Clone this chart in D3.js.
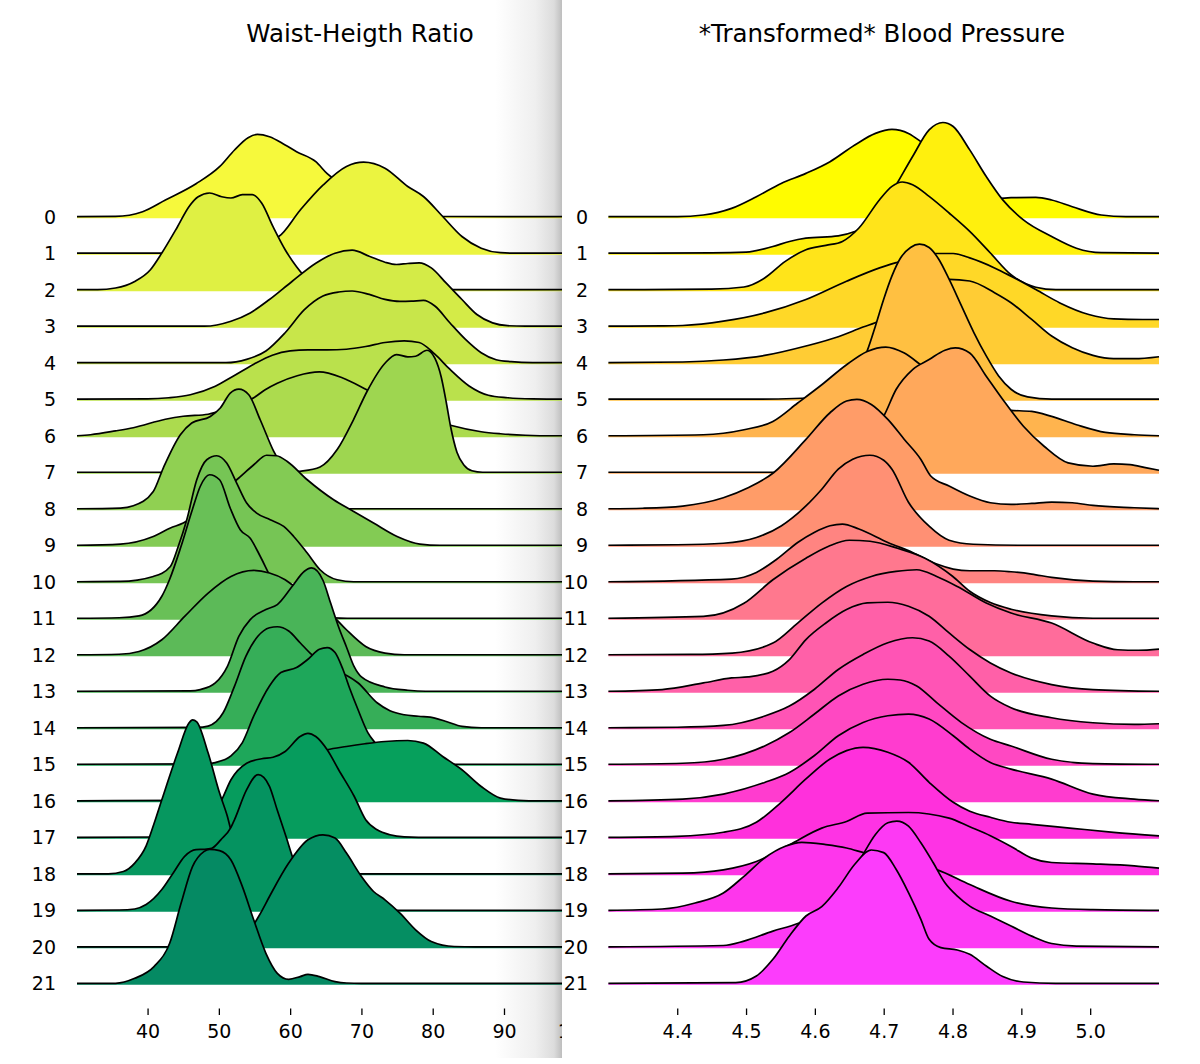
<!DOCTYPE html>
<html>
<head>
<meta charset="utf-8">
<script src="https://cdn.jsdelivr.net/npm/d3@7"></script>
<style>
  body { margin: 0; background: #fff; }
  svg text { font-family: "DejaVu Sans", sans-serif; }
</style>
</head>
<body>
<div id="plot"></div>
<script>

// row labels and tick values
var rowLabels = d3.range(22).map(String);
var waistTicks = [40, 50, 60, 70, 80, 90, 100];
var bpTicks = [4.4, 4.5, 4.6, 4.7, 4.8, 4.9, 5.0];

// Waist-Heigth Ratio densities, one array per row: [value, density]
var w0 = [[30.1,0],[35.5,0.0003],[39.3,0.005],[42.5,0.0167],[46.8,0.033],[50.1,0.05],[52.2,0.0667],[54.1,0.079],[55.4,0.0823],[57.1,0.08],[59.3,0.0717],[60.9,0.065],[63.6,0.055],[65.2,0.043],[67.9,0.03],[71.1,0.0167],[74.9,0.0067],[78.7,0.0017],[81.4,0.0002],[109.5,0]];
var w1 = [[30.1,0],[42,0],[45,0.0005],[50,0.0025],[54,0.007],[58.4,0.0167],[61.4,0.043],[64.6,0.068],[67.9,0.0867],[70.3,0.091],[73.3,0.085],[76.5,0.0667],[78.7,0.0567],[81.4,0.0367],[84.1,0.0167],[86.8,0.005],[89.5,0.0005],[92,0],[109.5,0]];
var w2 = [[30.1,0],[33,0],[35.5,0.0017],[38.2,0.0083],[40.4,0.02],[42,0.0367],[44.2,0.063],[45.8,0.083],[47.1,0.093],[48.7,0.0967],[50.4,0.093],[51.7,0.0917],[53.3,0.095],[54.7,0.095],[56,0.0867],[57.6,0.063],[59.3,0.04],[60.9,0.023],[62.5,0.01],[64.1,0.0033],[66.3,0.0003],[70,0],[109.5,0]];
var w3 = [[30.1,0],[48,0],[51.7,0.005],[54.4,0.0133],[57.1,0.0267],[60.3,0.045],[63.6,0.063],[66.3,0.073],[68.7,0.076],[71.1,0.07],[73.3,0.064],[74.9,0.0617],[76.5,0.0627],[78.1,0.0633],[79.8,0.0583],[81.9,0.043],[84.1,0.0267],[86.2,0.0117],[88.4,0.0033],[90.5,0.0005],[93,0],[109.5,0]];
var w4 = [[30.1,0],[51,0],[53.9,0.0033],[56.6,0.0117],[59.3,0.03],[62,0.053],[64.6,0.0667],[66.8,0.0707],[68.7,0.0717],[71.1,0.0683],[73.3,0.0633],[75.4,0.0613],[77,0.0615],[78.7,0.0623],[80.3,0.0567],[82.4,0.04],[84.6,0.0233],[86.8,0.01],[88.9,0.003],[91,0.001],[94,0],[109.5,0]];
var w5 = [[30.1,0],[40,0.0003],[43,0.0015],[46,0.0045],[49.5,0.013],[52,0.023],[54.9,0.035],[57.5,0.044],[60,0.0483],[62.5,0.0493],[65.2,0.0493],[67.9,0.05],[70.6,0.0527],[73.3,0.0567],[76,0.0583],[78.1,0.0567],[80.3,0.045],[82.4,0.03],[85.1,0.0133],[87.8,0.004],[90.5,0.0015],[94,0.0003],[98,0],[109.5,0]];
var w6 = [[30.1,0],[32,0.001],[35.5,0.0048],[38,0.008],[42.5,0.0165],[45,0.0195],[48.5,0.0215],[51,0.027],[53,0.032],[54.9,0.038],[56.5,0.046],[58.2,0.0525],[61,0.06],[64.1,0.0638],[67.3,0.058],[70.6,0.0465],[74,0.033],[78,0.021],[82.5,0.0105],[86.8,0.004],[89.5,0.002],[93,0.0005],[97,0],[109.5,0]];
var w7 = [[30.1,0],[60,0],[61.4,0.001],[64.2,0.0053],[66.6,0.0227],[68.9,0.0527],[70.8,0.081],[73.3,0.109],[74.9,0.1177],[76.5,0.1154],[77.6,0.116],[79.2,0.122],[80.3,0.114],[81.2,0.095],[81.9,0.07],[82.5,0.046],[83.4,0.02],[84.4,0.007],[85.5,0.0015],[87,0],[109.5,0]];
var w8 = [[30.1,0],[36.2,0.0007],[38,0.003],[40.8,0.0173],[42.2,0.0407],[44.6,0.074],[46.2,0.0857],[48.8,0.0923],[50.2,0.1007],[51.6,0.1157],[52.8,0.1197],[54.2,0.114],[55.8,0.089],[57.7,0.0573],[60,0.03],[62,0.013],[64,0.004],[66,0.0005],[70,0],[109.5,0]];
var w9 = [[30.1,0],[36.2,0.0012],[40.8,0.0088],[43.2,0.0172],[45,0.0222],[48,0.038],[50,0.052],[52.5,0.0655],[54.9,0.0805],[56.7,0.09],[58.1,0.0895],[59.6,0.0838],[62.4,0.0655],[66.1,0.0455],[68.9,0.0338],[71.7,0.0222],[75,0.0088],[78.2,0.0012],[81,0],[109.5,0]];
var w10 = [[30.1,0],[36.2,0.0003],[40.8,0.0053],[43.2,0.0153],[44.3,0.0353],[45.5,0.062],[46.9,0.102],[48.3,0.122],[49.7,0.126],[51.1,0.1187],[52.5,0.0987],[53.9,0.0787],[55.3,0.0687],[57.2,0.062],[59.1,0.0553],[60.5,0.0453],[62.4,0.0287],[64.2,0.012],[66.6,0.002],[68.9,0],[109.5,0]];
var w11 = [[30.1,0],[36,0.0005],[38.8,0.0023],[42,0.022],[43.1,0.039],[44.7,0.072],[46.3,0.109],[47.4,0.132],[48.7,0.1435],[50.1,0.1385],[51.6,0.11],[53,0.0885],[54.4,0.08],[55.8,0.062],[57.2,0.042],[58.6,0.025],[60,0.014],[62,0.006],[64,0.002],[66,0.0005],[68,0],[109.5,0]];
var w12 = [[30.1,0],[36,0.0005],[38.8,0.0033],[42,0.015],[45.2,0.0383],[48.5,0.0617],[51.7,0.0783],[54.9,0.0843],[57.1,0.0817],[59.3,0.075],[60.3,0.07],[62.5,0.06],[64.5,0.048],[66.3,0.0367],[67.9,0.025],[70.6,0.0083],[73.3,0.0017],[76,0],[109.5,0]];
var w13 = [[30.1,0],[46,0.0003],[47.4,0.0017],[49.5,0.0083],[51.2,0.025],[52.8,0.055],[54.4,0.0717],[56.6,0.0817],[58.2,0.0867],[60.3,0.105],[62,0.12],[63,0.1233],[64.6,0.111],[65.7,0.0877],[66.8,0.0643],[67.9,0.0443],[69,0.0243],[70,0.0143],[73.3,0.0043],[76.5,0.001],[79,0],[109.5,0]];
var w14 = [[30.1,0],[47,0.0003],[48.5,0.0017],[50.6,0.015],[52.2,0.0417],[53.8,0.0717],[55.5,0.0917],[57.1,0.1],[58.2,0.101],[59.8,0.0967],[61.4,0.085],[63,0.0733],[64.5,0.065],[66,0.058],[68,0.052],[69.5,0.045],[72.2,0.025],[74,0.017],[76,0.013],[78,0.0115],[80.3,0.0097],[82,0.006],[84.1,0.0013],[86.8,0],[109.5,0]];
var w15 = [[30.1,0],[48,0.0003],[49.5,0.0017],[51.7,0.0083],[53.3,0.0217],[54.9,0.0483],[57.1,0.0783],[58.7,0.0917],[60.9,0.0967],[62.5,0.105],[64.1,0.115],[65.2,0.1167],[66.3,0.1117],[67.4,0.095],[68.4,0.075],[69.5,0.055],[70.9,0.0317],[71.9,0.0217],[73.5,0.01],[75.5,0.003],[78,0.0005],[80,0],[109.5,0]];
var w16 = [[30.1,0],[45,0.0005],[50,0.002],[53,0.008],[56,0.02],[60,0.036],[63,0.046],[65.2,0.051],[67.9,0.0543],[70.5,0.057],[73.3,0.0593],[76.5,0.0603],[78.7,0.0577],[81.4,0.0443],[84.1,0.031],[86.8,0.0143],[89.5,0.0027],[92,0.0005],[95,0],[109.5,0]];
var w17 = [[30.1,0],[42,0.0003],[45,0.002],[48,0.012],[49.2,0.024],[50.4,0.0375],[51.7,0.0575],[53.9,0.074],[56,0.0785],[57.6,0.08],[59.3,0.0858],[61.4,0.1008],[62.5,0.104],[63.6,0.1008],[65.2,0.0875],[66.8,0.0675],[69,0.0408],[70.6,0.0175],[72.2,0.0075],[74,0.0025],[76,0.0005],[80,0],[109.5,0]];
var w18 = [[30.1,0],[34.5,0],[36.6,0.0023],[38.2,0.0107],[39.8,0.028],[40.9,0.05],[42,0.074],[44.2,0.1207],[45.8,0.1507],[46.3,0.154],[46.9,0.152],[48.5,0.1207],[50.1,0.0807],[51.2,0.0573],[51.7,0.044],[52.5,0.033],[54,0.022],[56,0.014],[58,0.009],[61,0.004],[65,0.001],[70,0],[109.5,0]];
var w19 = [[30.1,0],[36,0.0003],[38.2,0.0013],[39.8,0.0057],[42,0.0207],[43.6,0.0373],[45.2,0.054],[46.8,0.0607],[48,0.061],[49,0.062],[50.3,0.0707],[51.7,0.083],[52.2,0.0907],[53.9,0.1207],[55.5,0.1357],[56.3,0.133],[57.1,0.124],[58.2,0.1],[59.5,0.072],[60.5,0.05],[62,0.032],[64,0.015],[66,0.006],[69,0.0015],[72,0.0003],[75,0],[109.5,0]];
var w20 = [[30.1,0],[46,0],[50,0.001],[52,0.004],[53.5,0.009],[54.4,0.017],[55.8,0.033],[57.1,0.0503],[59.8,0.0837],[62.5,0.107],[64.6,0.112],[66.3,0.1087],[67.9,0.0937],[70,0.0703],[71.7,0.0553],[73.3,0.047],[75.4,0.0337],[77.6,0.017],[79.8,0.0053],[83,0.0003],[86,0],[109.5,0]];
var w21 = [[30.1,0],[35.5,0],[38.2,0.005],[40.9,0.0167],[43.1,0.04],[44.7,0.08],[46.3,0.1167],[47.9,0.1317],[48.7,0.134],[50.1,0.1327],[51.7,0.1233],[53.3,0.0967],[54.9,0.0633],[56.6,0.03],[58.2,0.01],[59.8,0.004],[61.4,0.0067],[62.5,0.009],[64.1,0.0067],[66.3,0.0017],[67.9,0.0003],[70,0],[109.5,0]];

// *Transformed* Blood Pressure densities, one array per row
var b0 = [[4.3,0],[4.4,0],[4.438,0.17],[4.479,0.83],[4.515,2.0],[4.551,3.33],[4.587,4.33],[4.622,5.5],[4.658,7.17],[4.688,8.33],[4.712,8.73],[4.736,8.33],[4.754,7.5],[4.78,6.0],[4.81,4.0],[4.84,2.5],[4.864,1.83],[4.885,1.9],[4.921,1.93],[4.944,1.67],[4.974,1.0],[5.016,0.17],[5.052,0],[5.1,0]];
var b1 = [[4.3,0],[4.45,0.03],[4.5,0.1],[4.539,0.67],[4.563,1.17],[4.587,1.5],[4.634,1.73],[4.658,2.17],[4.682,3.0],[4.7,4.67],[4.721,7.17],[4.742,9.67],[4.766,12.33],[4.786,13.07],[4.801,12.67],[4.825,10.33],[4.849,7.67],[4.873,5.33],[4.903,3.33],[4.944,1.67],[4.98,0.5],[5.016,0.05],[5.1,0]];
var b2 = [[4.3,0],[4.45,0.05],[4.497,0.27],[4.527,1.17],[4.557,2.83],[4.587,4.0],[4.616,4.43],[4.64,4.83],[4.664,6.17],[4.694,9.0],[4.712,10.33],[4.727,10.77],[4.742,10.5],[4.766,9.33],[4.795,7.67],[4.825,5.83],[4.855,3.67],[4.885,1.5],[4.921,0.25],[4.95,0],[5.1,0]];
var b3 = [[4.3,0],[4.378,0.03],[4.408,0.07],[4.467,0.5],[4.527,1.33],[4.587,2.67],[4.646,4.5],[4.694,5.83],[4.72,6.4],[4.75,7.0],[4.777,7.27],[4.801,7.27],[4.825,6.83],[4.861,5.83],[4.885,5.0],[4.921,3.67],[4.956,2.33],[4.998,1.17],[5.034,0.73],[5.076,0.67],[5.1,0.67]];
var b4 = [[4.3,0],[4.408,0.07],[4.467,0.27],[4.527,0.73],[4.587,1.67],[4.634,2.6],[4.67,3.57],[4.694,4.17],[4.73,5.8],[4.76,7.2],[4.795,8.33],[4.825,8.17],[4.861,7.0],[4.885,6.0],[4.915,4.33],[4.944,2.67],[4.974,1.5],[5.004,0.73],[5.034,0.4],[5.064,0.4],[5.1,0.6]];
var b5 = [[4.3,0],[4.5,0],[4.57,0.07],[4.61,0.3],[4.64,1.0],[4.66,2.5],[4.676,4.83],[4.688,7.33],[4.7,10.0],[4.712,12.33],[4.724,14.07],[4.739,15.17],[4.752,15.5],[4.766,15.17],[4.78,14.0],[4.795,12.0],[4.813,9.33],[4.831,6.67],[4.849,4.33],[4.867,2.33],[4.885,1.0],[4.909,0.23],[4.944,0],[5.1,0]];
var b6 = [[4.3,0],[4.438,0.1],[4.497,0.6],[4.539,1.43],[4.575,3.27],[4.61,5.1],[4.646,7.1],[4.676,8.43],[4.703,8.87],[4.73,8.27],[4.757,6.93],[4.79,5.5],[4.83,3.8],[4.87,2.6],[4.885,2.53],[4.915,2.43],[4.944,1.93],[4.98,1.1],[5.022,0.33],[5.064,0.1],[5.1,0]];
var b7 = [[4.3,0],[4.54,0],[4.58,0.3],[4.62,1.2],[4.66,3.0],[4.7,5.6],[4.718,8.27],[4.742,10.27],[4.766,11.27],[4.789,12.2],[4.804,12.43],[4.825,11.93],[4.849,9.6],[4.873,7.27],[4.903,4.6],[4.933,2.6],[4.968,0.93],[5.004,0.6],[5.034,0.83],[5.058,0.77],[5.082,0.43],[5.1,0.2]];
var b8 = [[4.3,0],[4.35,0.05],[4.408,0.27],[4.467,1.1],[4.503,2.1],[4.54,3.6],[4.587,6.93],[4.622,9.6],[4.646,10.77],[4.661,10.93],[4.682,10.43],[4.706,8.93],[4.73,6.93],[4.754,4.93],[4.768,3.3],[4.795,2.27],[4.825,1.27],[4.855,0.6],[4.885,0.43],[4.915,0.53],[4.944,0.67],[4.974,0.6],[5.004,0.33],[5.064,0.1],[5.1,0]];
var b9 = [[4.3,0],[4.4,0.05],[4.467,0.2],[4.515,0.77],[4.551,1.93],[4.587,3.93],[4.61,5.6],[4.634,7.6],[4.655,8.6],[4.68,9.0],[4.7,8.5],[4.712,7.6],[4.736,4.3],[4.766,1.9],[4.795,0.5],[4.83,0.1],[4.9,0],[5.1,0]];
var b10 = [[4.3,0],[4.479,0.27],[4.515,0.93],[4.545,2.27],[4.575,3.93],[4.599,4.93],[4.622,5.6],[4.64,5.77],[4.664,5.27],[4.706,3.93],[4.742,2.93],[4.777,1.77],[4.801,1.27],[4.825,1.1],[4.861,1.1],[4.885,1.0],[4.915,0.77],[4.944,0.43],[5.004,0.07],[5.064,0],[5.1,0]];
var b11 = [[4.3,0],[4.438,0.18],[4.497,1.5],[4.539,3.85],[4.587,6.0],[4.62,7.2],[4.65,7.8],[4.68,7.7],[4.72,7.0],[4.76,6.0],[4.8,4.2],[4.825,2.7],[4.855,1.57],[4.885,0.9],[4.944,0.23],[5.004,0],[5.1,0]];
var b12 = [[4.3,0],[4.42,0.03],[4.48,0.17],[4.539,1.17],[4.575,3.17],[4.61,5.17],[4.646,6.83],[4.682,7.83],[4.718,8.33],[4.748,8.5],[4.777,7.83],[4.807,6.83],[4.849,5.17],[4.885,4.17],[4.944,3.17],[5.004,1.17],[5.04,0.5],[5.07,0.45],[5.1,0.57]];
var b13 = [[4.3,0],[4.378,0.17],[4.438,0.83],[4.479,1.33],[4.503,1.43],[4.539,2.0],[4.563,3.17],[4.587,5.17],[4.616,6.83],[4.646,8.17],[4.676,8.83],[4.706,8.9],[4.736,8.5],[4.766,7.5],[4.795,5.83],[4.825,4.17],[4.855,2.83],[4.885,1.83],[4.944,0.67],[5.004,0.17],[5.1,0]];
var b14 = [[4.3,0],[4.4,0.05],[4.467,0.23],[4.527,1.17],[4.563,2.17],[4.599,3.83],[4.634,5.83],[4.67,7.33],[4.706,8.5],[4.742,9.0],[4.766,8.67],[4.795,7.17],[4.825,5.17],[4.855,3.17],[4.885,2.0],[4.944,1.0],[5.004,0.5],[5.064,0.33],[5.1,0.4]];
var b15 = [[4.3,0],[4.408,0.1],[4.467,0.5],[4.527,1.83],[4.563,3.17],[4.599,5.0],[4.634,6.83],[4.67,8.0],[4.706,8.5],[4.724,8.43],[4.748,7.83],[4.777,6.17],[4.813,4.17],[4.855,2.5],[4.885,1.83],[4.944,0.5],[5.004,0.07],[5.1,0]];
var b16 = [[4.3,0],[4.408,0.17],[4.467,0.67],[4.527,1.83],[4.563,2.83],[4.599,4.5],[4.634,6.5],[4.67,7.83],[4.706,8.5],[4.736,8.67],[4.766,8.17],[4.801,6.5],[4.825,5.17],[4.855,3.83],[4.885,3.17],[4.944,2.17],[5.004,0.67],[5.064,0.17],[5.1,0]];
var b17 = [[4.3,0],[4.4,0.1],[4.467,0.5],[4.515,1.5],[4.551,3.5],[4.587,5.83],[4.622,7.83],[4.646,8.67],[4.67,9.0],[4.706,8.5],[4.736,7.5],[4.766,5.5],[4.801,3.5],[4.825,2.6],[4.855,2.0],[4.885,1.5],[4.915,1.3],[4.974,0.9],[5.034,0.5],[5.1,0.15]];
var b18 = [[4.3,0],[4.408,0.07],[4.467,0.4],[4.515,1.23],[4.563,2.9],[4.61,4.57],[4.646,5.23],[4.676,6.07],[4.736,6.13],[4.795,5.57],[4.825,4.7],[4.855,3.8],[4.885,2.73],[4.915,1.57],[4.944,1.13],[5.004,1.0],[5.064,0.8],[5.1,0.57]];
var b19 = [[4.3,0],[4.378,0.13],[4.426,0.73],[4.467,1.73],[4.497,3.4],[4.527,5.23],[4.557,6.4],[4.581,6.8],[4.616,6.57],[4.646,6.23],[4.673,5.73],[4.7,5.3],[4.74,4.7],[4.777,4.07],[4.825,2.57],[4.885,0.9],[4.944,0.23],[5.004,0.07],[5.1,0]];
var b20 = [[4.3,0],[4.467,0.13],[4.497,0.57],[4.539,1.57],[4.575,2.33],[4.599,3.07],[4.622,4.23],[4.646,6.23],[4.67,9.23],[4.688,11.23],[4.706,12.4],[4.719,12.57],[4.736,12.07],[4.754,10.4],[4.772,8.4],[4.789,6.4],[4.807,5.07],[4.825,4.07],[4.855,3.07],[4.885,2.07],[4.915,1.07],[4.944,0.33],[4.98,0.07],[5.1,0]];
var b21 = [[4.3,0],[4.485,0.07],[4.515,0.73],[4.539,2.4],[4.563,4.73],[4.587,6.73],[4.61,7.67],[4.634,9.57],[4.658,11.9],[4.682,13.33],[4.7,13.07],[4.718,11.4],[4.736,9.07],[4.754,6.4],[4.766,4.4],[4.783,3.57],[4.807,3.33],[4.825,2.9],[4.849,1.73],[4.873,0.67],[4.903,0.13],[4.95,0],[5.1,0]];

var waistCurves = [w0,w1,w2,w3,w4,w5,w6,w7,w8,w9,w10,w11,w12,w13,w14,w15,w16,w17,w18,w19,w20,w21];
var bpCurves = [b0,b1,b2,b3,b4,b5,b6,b7,b8,b9,b10,b11,b12,b13,b14,b15,b16,b17,b18,b19,b20,b21];

var width = 1200, height = 1064;

var svg = d3.select('#plot')
    .append('svg')
    .attr('width', width)
    .attr('height', height);

// shared row positions
var rowY = d3.scalePoint()
    .domain(rowLabels)
    .range([216.7, 983.3]);

var xWaist = d3.scaleLinear().domain([30.1, 109.5]).range([77, 643]);
var xBp = d3.scaleLinear().domain([4.3, 5.1]).range([608.4, 1159]);

// density -> ridge height in px
var hWaist = d3.scaleLinear().domain([0, 0.1]).range([0, 100]);
var hBp = d3.scaleLinear().domain([0, 10]).range([0, 100]);

// row index -> fill colour (yellow -> green, yellow -> magenta)
var waistColor = d3.scaleLinear()
    .domain([0, 4, 8, 12, 14, 16, 21])
    .range(["#f6f93c", "#c8e64a", "#90d052", "#5cba58", "#36ae58", "#06a05c", "#058a63"])
    .interpolate(d3.interpolateRgb);
var bpColor = d3.scaleLinear()
    .domain([0, 17, 21])
    .range(["#fffc00", "#ff30dc", "#fc3cfc"])
    .interpolate(d3.interpolateRgb);

// grey shading at the right edge of the left figure
var defs = svg.append("defs");
var grad = defs.append("linearGradient").attr("id", "shade")
    .attr("x1", 0).attr("x2", 1).attr("y1", 0).attr("y2", 0);
grad.append("stop").attr("offset", "0%").attr("stop-color", "#ffffff");
grad.append("stop").attr("offset", "60%").attr("stop-color", "#efefef");
grad.append("stop").attr("offset", "88%").attr("stop-color", "#dcdcdc");
grad.append("stop").attr("offset", "100%").attr("stop-color", "#bebebe");

function drawPanel(title, titleX, curves, x, h, color, ticks, fmt, labelX) {
    var g = svg.append("g");

    curves.forEach(function(pts, i) {
        var base = rowY(rowLabels[i]);
        var area = d3.area()
            .curve(d3.curveMonotoneX)
            .x(function(d) { return x(d[0]); })
            .y0(base + 1.5)
            .y1(function(d) { return base - h(d[1]); });

        g.append("path")
            .attr("d", area(pts))
            .style("fill", color(i));

        g.append("path")
            .attr("d", area.lineY1()(pts))
            .style("fill", "none")
            .style("stroke", "#000")
            .style("stroke-width", 1.7);
    });

    // row labels
    g.selectAll(".rowlab")
        .data(rowLabels)
      .enter().append("text")
        .attr("x", labelX)
        .attr("y", function(d) { return rowY(d); })
        .attr("dy", ".36em")
        .style("text-anchor", "end")
        .style("font-size", "19px")
        .text(function(d) { return d; });

    var xAxis = d3.axisBottom(x)
        .tickValues(ticks)
        .tickFormat(fmt)
        .tickSize(6.5)
        .tickPadding(10);

    var ax = g.append("g")
        .attr("transform", "translate(0,1008.5)")
        .call(xAxis);
    ax.select(".domain").remove();
    ax.selectAll("line").style("stroke", "#000").style("stroke-width", 1.3);
    ax.selectAll("text")
        .style("font-size", "19px")
        .style("font-family", "DejaVu Sans")
        .style("fill", "#000");

    g.append("text")
        .attr("x", titleX)
        .attr("y", 42)
        .style("text-anchor", "middle")
        .style("font-size", "24.5px")
        .text(title);
}

svg.append("rect")
    .attr("x", 495).attr("y", 0)
    .attr("width", 67).attr("height", 1058)
    .style("fill", "url(#shade)");

drawPanel("Waist-Heigth Ratio", 360, waistCurves, xWaist, hWaist, waistColor,
          waistTicks, d3.format("d"), 56);

// right figure sits on top and hides the overflow of the left one
svg.append("rect")
    .attr("x", 562).attr("y", 0)
    .attr("width", width - 562).attr("height", height)
    .style("fill", "#fff");

drawPanel("*Transformed* Blood Pressure", 882, bpCurves, xBp, hBp, bpColor,
          bpTicks, d3.format(".1f"), 588);

</script>
</body>
</html>
